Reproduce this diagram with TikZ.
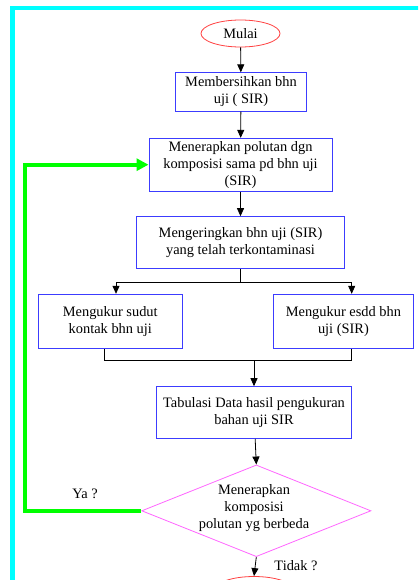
\documentclass[tikz,border=0pt]{standalone}
\usepackage{fontspec}
\setmainfont{Liberation Serif}
\usetikzlibrary{shapes.geometric,arrows.meta}
\definecolor{boxblue}{HTML}{3C3CFF}
\definecolor{termred}{HTML}{FF4040}
\definecolor{decmag}{HTML}{FF66FF}
\definecolor{loopgreen}{HTML}{00FF00}
\definecolor{framecyan}{HTML}{00FFFF}
\begin{document}
\begin{tikzpicture}[x=1pt,y=-1pt,
  every node/.style={font=\fontsize{14.4}{17}\selectfont},
  procbox/.style={draw=boxblue,line width=1pt,align=center,inner sep=0pt},
  term/.style={draw=termred,ellipse,line width=0.8pt,inner sep=0pt,minimum width=79pt,minimum height=27pt},
  decide/.style={draw=decmag,diamond,line width=0.8pt,inner sep=0pt,align=center},
  arr/.style={-{Triangle[length=8pt,width=7pt]},line width=0.8pt},
  plain/.style={line width=0.8pt},
  looparr/.style={draw=loopgreen,line width=4pt,-{Triangle[length=12pt,width=12pt]}}
]
\useasboundingbox (0,0) rectangle (418,580);
\begin{scope}
\clip (0,0) rectangle (418,580);
\fill[white] (0,0) rectangle (418,580);
\draw[framecyan,line width=4.5pt] (12.5,8) rectangle (460,640);

\node[term] (start) at (240.5,33.5) {Mulai};
\node[procbox,minimum width=130.3pt,minimum height=38.3pt] (b1) at (241,92) {Membersihkan bhn\\uji ( SIR)};
\node[procbox,minimum width=183pt,minimum height=52.7pt] (b2) at (240.5,164.7) {Menerapkan polutan dgn\\komposisi sama pd bhn uji\\(SIR)};
\node[procbox,minimum width=207.6pt,minimum height=52pt] (b3) at (240.5,242.7) {Mengeringkan bhn uji (SIR)\\yang telah terkontaminasi};
\node[procbox,minimum width=144pt,minimum height=54.4pt] (b4) at (110.3,321.5) {Mengukur sudut\\kontak bhn uji};
\node[procbox,minimum width=140.2pt,minimum height=54.4pt] (b5) at (343.4,321.5) {Mengukur esdd bhn\\uji (SIR)};
\node[procbox,minimum width=195.4pt,minimum height=51.6pt] (b6) at (254,412.5) {Tabulasi Data hasil pengukuran\\bahan uji SIR};
\node[decide,minimum width=229.3pt,minimum height=91.7pt] (dia) at (256.3,510.8) {};
\node[align=center,inner sep=0pt] (diatext) at (254,508) {Menerapkan\\komposisi\\polutan yg berbeda};
\node[term] (stop) at (254,590) {};

\node (ya) at (85,494) {Ya ?};
\node (tidak) at (296,565.5) {Tidak ?};

\coordinate (split) at (240.5,282.3);
\coordinate (merge) at (254,360.7);
\coordinate (gl) at (25,300);

\draw[arr] (start) -- (b1);
\draw[arr] (b1) -- (b2);
\draw[arr] (b2) -- (b3);
\draw[plain] (b3.south) -- (split);
\draw[arr] (split) -| ([xshift=5.7pt]b4.north);
\draw[arr] (split) -| ([xshift=8.3pt]b5.north);
\draw[plain] ([xshift=-6pt]b4.south) |- (merge);
\draw[plain] ([xshift=8.3pt]b5.south) |- (merge);
\draw[arr] (merge) -- (b6.north);
\draw[arr] (b6) -- (dia.north);
\draw[arr] (dia.south) -- (stop.north);
\draw[looparr] (dia.west) -| (gl) |- (b2.west);
\end{scope}
\end{tikzpicture}
\end{document}
